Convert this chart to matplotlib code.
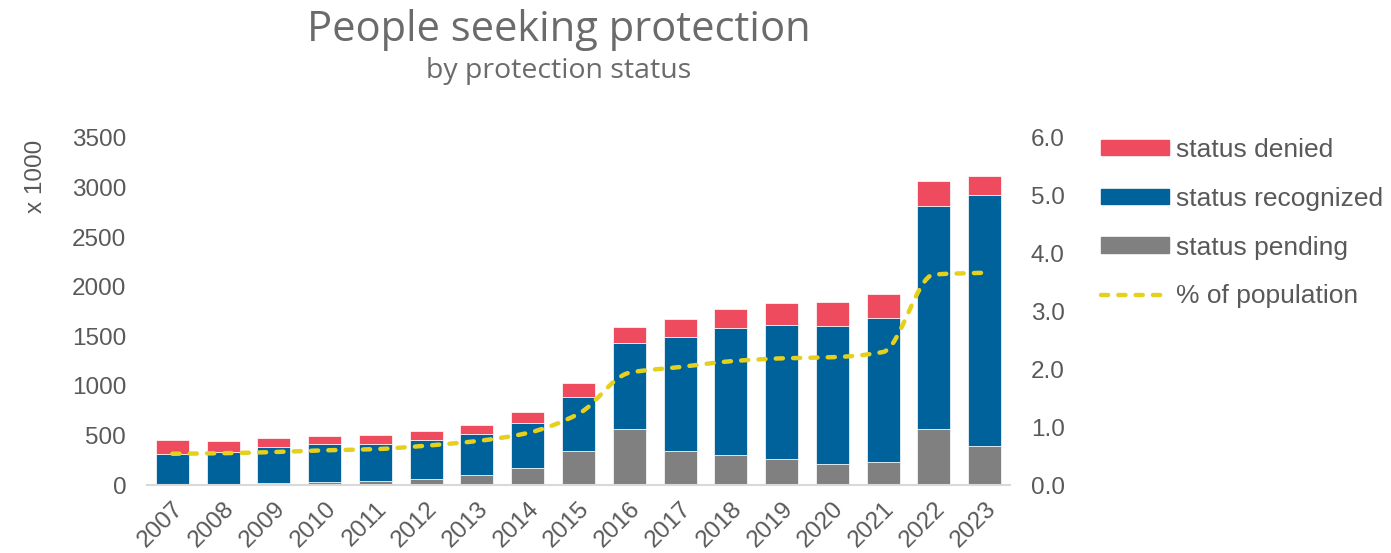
import numpy as np
import matplotlib
matplotlib.use("Agg")
import matplotlib.pyplot as plt
from matplotlib.path import Path
from matplotlib.patches import PathPatch, Patch
from matplotlib.lines import Line2D

years = [str(y) for y in range(2007, 2024)]
pending = [8, 6, 20, 30, 40, 60, 104, 171, 342, 567, 342, 302, 262, 211, 231, 563, 392]
recognized = [307, 329, 359, 379, 372, 396, 406, 456, 543, 865, 1150, 1278, 1355, 1392, 1449, 2251, 2529]
denied = [135, 111, 94, 87, 88, 87, 97, 107, 141, 158, 178, 194, 214, 245, 249, 254, 191]
pct_pop = [0.54, 0.55, 0.57, 0.60, 0.62, 0.68, 0.76, 0.90, 1.23, 1.94, 2.04, 2.14, 2.19, 2.21, 2.30, 3.64, 3.67]

RED = "#EE4C5E"
BLUE = "#00629B"
GREY = "#808080"
YELLOW = "#E6D01E"
TXT = "#595959"

plt.rcParams['font.family'] = ['Liberation Sans', 'DejaVu Sans']

fig = plt.figure(figsize=(13.91, 5.53), dpi=100)
ax = fig.add_axes([147/1391, 1-485/553, 863/1391, 347/553])
ax2 = ax.twinx()

x = np.arange(len(years))
w = 0.65
p = np.array(pending)
r = np.array(recognized)
d = np.array(denied)
ax.bar(x, p, w, color=GREY, edgecolor="white", linewidth=0.5, zorder=2)
ax.bar(x, r, w, bottom=p, color=BLUE, edgecolor="white", linewidth=0.5, zorder=2)
ax.bar(x, d, w, bottom=p+r, color=RED, edgecolor="white", linewidth=0.5, zorder=2)

# smooth line through the points, monotone tangents so it does not overshoot
yv = np.array(pct_pop)
n = len(x)
sl = np.diff(yv)
m = np.zeros(n)
m[0], m[-1] = sl[0], sl[-1]
for i in range(1, n-1):
    if sl[i-1]*sl[i] > 0:
        m[i] = 2/(1/sl[i-1] + 1/sl[i])
verts = [(x[0], yv[0])]
codes = [Path.MOVETO]
for i in range(n-1):
    verts += [(x[i]+1/3, yv[i]+m[i]/3), (x[i+1]-1/3, yv[i+1]-m[i+1]/3), (x[i+1], yv[i+1])]
    codes += [Path.CURVE4]*3
dash = (0, (1.6, 2.3))
line = PathPatch(Path(verts, codes), facecolor="none", edgecolor=YELLOW,
                 linewidth=3.2, linestyle=dash, capstyle="round", zorder=3)
ax2.add_patch(line)

ax.set_xlim(-0.5, len(years)-0.5)
ax.set_ylim(0, 3500)
ax2.set_ylim(0, 6)
ax.set_yticks(range(0, 3501, 500))
ax2.set_yticks(np.arange(0, 6.1, 1))
ax2.set_yticklabels([f"{v:.1f}" for v in np.arange(0, 6.1, 1)])
ax.set_xticks(x)
ax.set_xticklabels(years, rotation=45, ha="right", rotation_mode="anchor")

for a in (ax, ax2):
    for s in a.spines.values():
        s.set_visible(False)
    a.tick_params(length=0, colors=TXT, labelsize=17.5)
ax.spines['bottom'].set_visible(True)
ax.spines['bottom'].set_color("#D9D9D9")
ax.spines['bottom'].set_linewidth(1.5)
ax.tick_params(axis='y', pad=15)
ax2.tick_params(axis='y', pad=15)
ax.tick_params(axis='x', pad=9)

fig.text(36/1391, 1-176/553, "x 1000", rotation=90, ha="center", va="center",
         color=TXT, fontsize=17.5)

fig.text(559/1391, 1-30/553, "People seeking protection", ha="center", va="center",
         color="#6B6B6B", fontsize=30, family=['Open Sans', 'DejaVu Sans'])
fig.text(559/1391, 1-71/553, "by protection status", ha="center", va="center",
         color="#6B6B6B", fontsize=20.5, family=['Open Sans', 'DejaVu Sans'])

handles = [Patch(color=RED), Patch(color=BLUE), Patch(color=GREY),
           Line2D([], [], color=YELLOW, lw=3.2, linestyle=dash, dash_capstyle="round")]
labels = ["status denied", "status recognized", "status pending", "% of population"]
fig.legend(handles, labels, loc="upper left", bbox_to_anchor=(1101/1391, 1-138/553),
           frameon=False, fontsize=19, labelcolor=TXT, handlelength=2.58,
           handleheight=0.53, handletextpad=0.27, labelspacing=0.94, borderaxespad=0,
           borderpad=0)

fig.savefig("out.png", dpi=100)
